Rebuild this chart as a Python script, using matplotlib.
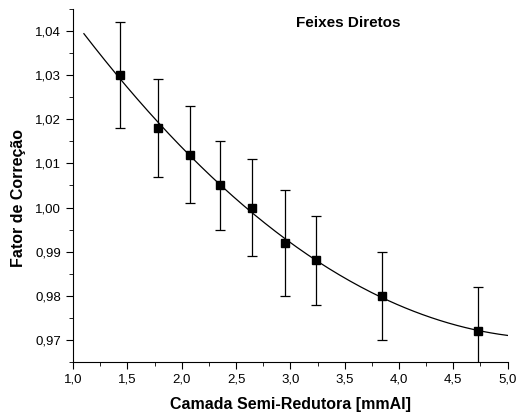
import numpy as np
import matplotlib.pyplot as plt
from matplotlib.ticker import MultipleLocator

# dados
camada = [1.43, 1.78, 2.08, 2.35, 2.65, 2.95, 3.24, 3.84, 4.73]
fator = [1.030, 1.018, 1.012, 1.005, 1.000, 0.992, 0.988, 0.980, 0.972]
erro = [0.012, 0.011, 0.011, 0.010, 0.011, 0.012, 0.010, 0.010, 0.010]

plt.rcParams['font.family'] = ['Liberation Sans', 'DejaVu Sans']

fig = plt.figure(figsize=(5.18, 4.2), dpi=100)
ax = fig.add_axes([0.141, 0.138, 0.839, 0.841])

# ajuste polinomial de segunda ordem
coef = np.polyfit(camada, fator, 2)
xs = np.linspace(1.1, 5.0, 200)
ax.plot(xs, np.polyval(coef, xs), color='black', lw=0.9)

ax.errorbar(camada, fator, yerr=erro, fmt='s', color='black', ms=5.5,
            ecolor='black', elinewidth=0.9, capsize=3.5, capthick=0.9)

ax.set_xlim(1.0, 5.0)
ax.set_ylim(0.965, 1.045)
ax.xaxis.set_major_locator(MultipleLocator(0.5))
ax.xaxis.set_minor_locator(MultipleLocator(0.25))
ax.yaxis.set_major_locator(MultipleLocator(0.01))
ax.yaxis.set_minor_locator(MultipleLocator(0.005))

fmt_x = lambda v, p: ('%.1f' % v).replace('.', ',')
fmt_y = lambda v, p: ('%.2f' % v).replace('.', ',')
ax.xaxis.set_major_formatter(fmt_x)
ax.yaxis.set_major_formatter(fmt_y)

ax.spines['top'].set_visible(False)
ax.spines['right'].set_visible(False)
ax.tick_params(which='both', direction='out', labelsize=9.5)
ax.tick_params(which='major', length=5)
ax.tick_params(which='minor', length=3)

ax.set_xlabel('Camada Semi-Redutora [mmAl]', fontsize=11.5, fontweight='bold', labelpad=8)
ax.set_ylabel('Fator de Correção', fontsize=11.5, fontweight='bold', labelpad=7)
ax.yaxis.label.set_y(0.465)
ax.text(0.513, 0.96, 'Feixes Diretos', transform=ax.transAxes,
        fontsize=11, fontweight='bold', va='center')

fig.savefig('out.png')
